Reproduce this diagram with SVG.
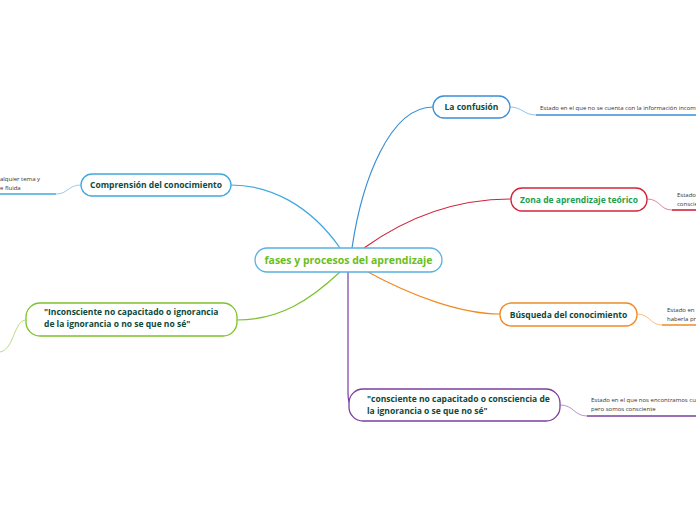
<svg xmlns="http://www.w3.org/2000/svg" width="696" height="520" viewBox="0 0 696 520">
<style>
.n{fill:#fff;stroke-width:1.3}
.t{font-family:"Open Sans","Noto Sans",sans-serif;font-weight:bold;font-size:8.5px;fill:#0d4a3c}
.s{font-family:"Open Sans","Noto Sans",sans-serif;font-size:6px;fill:#333}
.c{fill:none;stroke-width:1.2}
.u{fill:none;stroke-width:0.8;opacity:0.7}
.l{fill:none;stroke-width:1.6}
</style>
<rect width="696" height="520" fill="#fff"/>
<g id="connectors">
<path class="c" stroke="#3b8fd6" d="M352,248 C362,180 390,107 433,107"/>
<path class="c" stroke="#d0243c" d="M364,248 C410,215 460,199 511,199"/>
<path class="c" stroke="#f08a24" d="M368,272 C410,295 460,314 500,314"/>
<path class="c" stroke="#7a3f9e" d="M348,272 L348,392 Q348,405 352,405"/>
<path class="c" stroke="#3fa8dc" d="M340,248 C310,205 270,185 231,185"/>
<path class="c" stroke="#7cc22c" d="M340,272 C310,300 280,320 237,320"/>
<path class="u" stroke="#3b8fd6" d="M510,107 C522,107 524,115 536,115"/>
<path class="l" stroke="#3b8fd6" d="M536,115 L696,115"/>
<path class="u" stroke="#d0243c" d="M647,199 C660,199 660,210 672,210"/>
<path class="l" stroke="#d0243c" d="M672,210 L696,210"/>
<path class="u" stroke="#f08a24" d="M637,314 C650,314 650,325 662,325"/>
<path class="l" stroke="#f08a24" d="M662,325 L696,325"/>
<path class="u" stroke="#7a3f9e" d="M560,405 C574,405 574,416 587,416"/>
<path class="l" stroke="#7a3f9e" d="M587,416 L696,416"/>
<path class="u" stroke="#3fa8dc" d="M81,185 C68,185 68,194 56,194"/>
<path class="l" stroke="#3fa8dc" d="M56,194 L0,194"/>
<path class="u" stroke="#7cc22c" d="M26,320 C14,320 14,350 0,352"/>
</g>
<g id="central">
<rect class="n" x="255" y="248" width="187" height="24" rx="12" stroke="#5ab0e4"/>
<text x="348.5" y="264" text-anchor="middle" font-family="'Open Sans','Noto Sans',sans-serif" font-weight="bold" font-size="10.5" fill="#6cbd1e">fases y procesos del aprendizaje</text>
</g>
<g id="confusion">
<rect class="n" x="433" y="96" width="77" height="22" rx="11" stroke="#3b8fd6"/>
<text class="t" x="471.5" y="110" text-anchor="middle">La confusión</text>
<text class="s" x="540" y="110">Estado en el que no se  cuenta con la información incom</text>
</g>
<g id="zona">
<rect class="n" x="511" y="188" width="136" height="23" rx="11" stroke="#d0243c"/>
<text class="t" x="579" y="202.5" text-anchor="middle" style="fill:#22a050">Zona de aprendizaje teórico</text>
<text class="s" x="677" y="197">Estado</text>
<text class="s" x="677" y="206">conscie</text>
</g>
<g id="busqueda">
<rect class="n" x="500" y="303" width="137" height="23" rx="11" stroke="#f08a24"/>
<text class="t" x="568.5" y="317.5" text-anchor="middle">Búsqueda del conocimiento</text>
<text class="s" x="667" y="312">Estado en</text>
<text class="s" x="667" y="321">haberla pr</text>
</g>
<g id="consciente">
<rect class="n" x="349" y="389" width="211" height="32" rx="14" stroke="#7a3f9e"/>
<text class="t" x="367" y="402">"consciente no capacitado o consciencia de</text>
<text class="t" x="367" y="414">la ignorancia o se que no sé"</text>
<text class="s" x="591" y="402">Estado en el que nos encontramos cua</text>
<text class="s" x="591" y="411">pero somos consciente</text>
</g>
<g id="comprension">
<rect class="n" x="81" y="174" width="150" height="22" rx="11" stroke="#3fa8dc"/>
<text class="t" x="156" y="188" text-anchor="middle">Comprensión del conocimiento</text>
<text class="s" x="0" y="181">alquier tema y</text>
<text class="s" x="0" y="190">e fluida</text>
</g>
<g id="inconsciente">
<rect class="n" x="26" y="303" width="211" height="33" rx="14" stroke="#7cc22c"/>
<text class="t" x="44" y="315">"Inconsciente no capacitado o ignorancia</text>
<text class="t" x="44" y="327">de la ignorancia o no se que no sé"</text>
</g>
</svg>
